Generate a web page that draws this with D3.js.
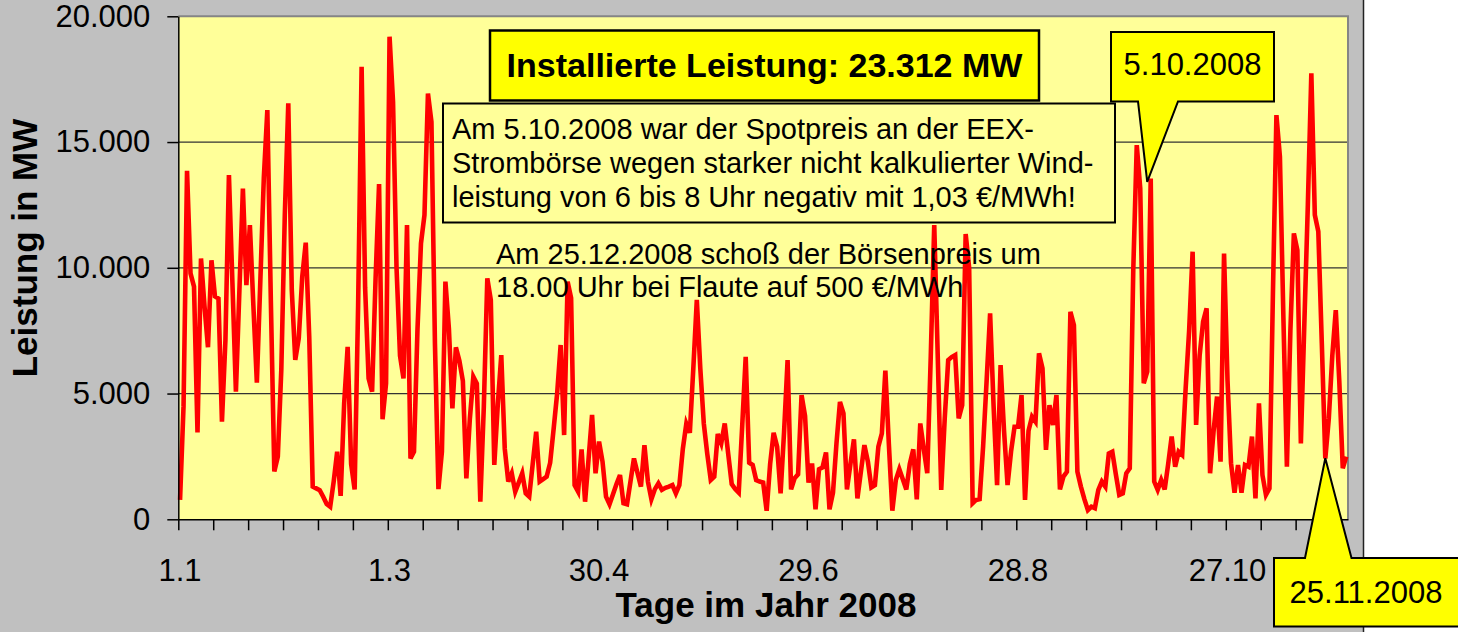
<!DOCTYPE html>
<html>
<head>
<meta charset="utf-8">
<script src="https://cdn.jsdelivr.net/npm/d3@7"></script>
<style>
body { margin: 0; background: #fff; }
svg { display: block; font-family: "Liberation Sans", Arial, sans-serif; }
</style>
</head>
<body>
<svg width="1458" height="632"></svg>
<script>
// daily wind power in MW, 1.1.2008 to 30.11.2008
var windMW = [
	770, 4500, 13860, 9780, 9250, 3450, 10370, 8480, 6840, 10300,
	8860, 8780, 3880, 7130, 13690, 9400, 5075, 9100, 13150, 9310,
	11700, 8500, 5430, 9500, 13600, 16270, 8720, 1900, 2490, 5940,
	12080, 16540, 9120, 6340, 7200, 9650, 11000, 7260, 1300, 1230,
	1160, 900, 610, 500, 1500, 2690, 930, 4600, 6860, 2200,
	1190, 8500, 17990, 9220, 5600, 5075, 9570, 13330, 3975, 5400,
	19190, 16600, 10000, 6500, 5600, 11700, 2420, 2690, 7540, 10970,
	12100, 16930, 15800, 7000, 1200, 2690, 9450, 7580, 4410, 6840,
	6300, 5500, 1630, 4000, 5670, 5400, 700, 4480, 9580, 8720,
	2160, 4560, 6530, 2800, 1500, 1830, 1100, 1460, 1830, 1030,
	900, 2200, 3480, 1500, 1600, 1700, 2250, 3600, 5000, 6930,
	3350, 9450, 8800, 1360, 1100, 2780, 700, 2400, 4150, 1830,
	3090, 2290, 900, 600, 1000, 1400, 1760, 640, 600, 1500,
	2420, 1850, 1300, 2950, 1500, 800, 1200, 1430, 1170, 1250,
	1300, 1360, 1030, 1360, 2800, 3800, 3440, 6000, 8720, 6000,
	3810, 2600, 1560, 1690, 3390, 3020, 3810, 2600, 1400, 1200,
	1060, 3700, 6460, 2250, 2160, 1560, 1500, 1460, 340, 2200,
	3440, 2890, 1030, 3500, 6330, 1190, 1630, 1790, 4940, 4110,
	1460, 2220, 400, 1990, 2060, 2660, 400, 1060, 3020, 4670,
	4210, 1190, 2200, 3180, 830, 1900, 2950, 2290, 1270, 1360,
	2890, 3420, 5910, 3000, 340, 1560, 1990, 1590, 1190, 2200,
	2780, 790, 3810, 2800, 1830, 6470, 11700, 6500, 1170, 4000,
	6330, 6450, 6530, 4010, 4540, 11340, 10000, 640, 770, 800,
	2900, 5500, 8190, 4500, 1360, 6130, 3500, 1360, 2700, 3680,
	3680, 4940, 770, 3520, 4080, 3880, 6600, 6000, 2760, 4540,
	3750, 4940, 1190, 1700, 1890, 8250, 7720, 1890, 1300, 800,
	370, 500, 440, 1170, 1500, 1300, 2620, 2690, 1800, 970,
	1030, 1830, 2030, 9910, 14880, 13160, 5410, 5870, 13550, 1500,
	1170, 1560, 1190, 2200, 3290, 2090, 2690, 2560, 5200, 7500,
	10640, 3750, 6500, 7860, 8390, 1830, 3500, 4880, 2290, 10570,
	5500, 2230, 1060, 2160, 1060, 2160, 2090, 3290, 830, 4610,
	1760, 970, 1230, 9000, 16070, 14420, 8000, 2090, 7500, 11370,
	10700, 3020, 7800, 12500, 17730, 12100, 11440, 7000, 2420, 4000,
	6500, 8320, 5500, 2030, 2490
];

var labelDays = [0, 60, 120, 180, 240, 300];
var labelTexts = ["1.1", "1.3", "30.4", "29.6", "28.8", "27.10"];
var yTickValues = [0, 5000, 10000, 15000, 20000];
var gridValues = [5000, 10000, 15000];

var titleText = "Installierte Leistung: 23.312 MW";
var noteLines = [
	"Am 5.10.2008 war der Spotpreis an der EEX-",
	"Strombörse wegen starker nicht kalkulierter Wind-",
	"leistung von 6 bis 8 Uhr negativ mit 1,03 €/MWh!"
];
var note2Lines = [
	"Am 25.12.2008 schoß der Börsenpreis um",
	"18.00 Uhr bei Flaute auf 500 €/MWh"
];
// callouts: label, day index and value the pointer aims at
var callouts = [
	{ text: "5.10.2008", day: 277, value: 13420 },
	{ text: "25.11.2008", day: 328, value: 2425 }
];

var plot = { left: 178.3, right: 1348, top: 16.3, bottom: 519.3 };
var font = '"Liberation Sans", Arial, sans-serif';

var x = d3.scaleLinear().domain([0, windMW.length]).range([plot.left, plot.right]);
var y = d3.scaleLinear().domain([0, 20000]).range([plot.bottom, plot.top]);
var de = d3.formatLocale({ decimal: ",", thousands: ".", grouping: [3], currency: ["", " €"] });
var fmt = de.format(",d");

function drawBackground(svg) {
	svg.append("rect")
		.attr("x", 0).attr("y", 0)
		.attr("width", 1363).attr("height", 632)
		.attr("fill", "#c0c0c0");
	svg.append("line")
		.attr("x1", 1363.5).attr("x2", 1363.5)
		.attr("y1", 0).attr("y2", 632)
		.attr("stroke", "#222").attr("stroke-width", 1.5);

	svg.append("rect")
		.attr("x", plot.left).attr("y", plot.top)
		.attr("width", plot.right - plot.left)
		.attr("height", plot.bottom - plot.top)
		.attr("fill", "#ffff99");

	//gridlines
	svg.append("g").selectAll("line")
		.data(gridValues)
		.enter().append("line")
		.attr("x1", plot.left).attr("x2", plot.right)
		.attr("y1", function (d) { return y(d); })
		.attr("y2", function (d) { return y(d); })
		.attr("stroke", "#333").attr("stroke-width", 1.2);

	//top and right border of the plot area
	svg.append("path")
		.attr("d", "M" + plot.left + "," + plot.top + "H" + plot.right + "V" + plot.bottom)
		.attr("fill", "none")
		.attr("stroke", "#858585").attr("stroke-width", 2);
}

function drawSeries(svg) {
	var line = d3.line()
		.x(function (d, i) { return x(i + 0.5); })
		.y(function (d) { return y(d); });

	svg.append("path")
		.datum(windMW)
		.attr("d", line)
		.attr("fill", "none")
		.attr("stroke", "#ff0000")
		.attr("stroke-width", 4.6);
}

function drawAxes(svg) {
	var yAxis = d3.axisLeft(y)
		.tickValues(yTickValues)
		.tickSize(11)
		.tickSizeOuter(0)
		.tickPadding(17)
		.tickFormat(fmt);

	var gy = svg.append("g")
		.attr("transform", "translate(" + plot.left + ",0)")
		.call(yAxis)
		.attr("font-size", 31)
		.attr("font-family", font);
	gy.selectAll("line").attr("stroke", "#000").attr("stroke-width", 1.5);
	gy.select(".domain").attr("stroke", "#000").attr("stroke-width", 1.5);
	gy.selectAll("text").attr("fill", "#000");

	var xAxis = d3.axisBottom(x)
		.tickValues(d3.range(0, 331, 10))
		.tickSize(11)
		.tickSizeOuter(0)
		.tickFormat("");

	var gx = svg.append("g")
		.attr("transform", "translate(0," + plot.bottom + ")")
		.call(xAxis);
	gx.selectAll("line").attr("stroke", "#000").attr("stroke-width", 1.5);
	gx.select(".domain").attr("stroke", "#000").attr("stroke-width", 1.5);

	//date labels sit under the middle of their day
	svg.append("g").selectAll("text")
		.data(labelDays)
		.enter().append("text")
		.attr("x", function (d) { return x(d + 0.5); })
		.attr("y", 580.5)
		.attr("text-anchor", "middle")
		.attr("font-size", 31)
		.attr("font-family", font)
		.text(function (d, i) { return labelTexts[i]; });

	svg.append("text")
		.attr("x", 766).attr("y", 617)
		.attr("text-anchor", "middle")
		.attr("font-size", 35).attr("font-weight", "bold")
		.attr("font-family", font)
		.text("Tage im Jahr 2008");

	svg.append("text")
		.attr("transform", "translate(37,248) rotate(-90)")
		.attr("text-anchor", "middle")
		.attr("font-size", 35).attr("font-weight", "bold")
		.attr("font-family", font)
		.text("Leistung in MW");
}

function drawNotes(svg) {
	// big yellow title box
	svg.append("rect")
		.attr("x", 490).attr("y", 30.5)
		.attr("width", 549).attr("height", 70)
		.attr("fill", "#ffff00")
		.attr("stroke", "#000").attr("stroke-width", 2.5);
	svg.append("text")
		.attr("x", 764.5).attr("y", 77)
		.attr("text-anchor", "middle")
		.attr("font-size", 34).attr("font-weight", "bold")
		.attr("font-family", font)
		.text(titleText);

	// note about 5.10.2008
	svg.append("rect")
		.attr("x", 443).attr("y", 103.5)
		.attr("width", 672).attr("height", 119)
		.attr("fill", "#ffff99")
		.attr("stroke", "#000").attr("stroke-width", 2);
	svg.append("text")
		.attr("font-size", 29).attr("font-family", font)
		.selectAll("tspan")
		.data(noteLines)
		.enter().append("tspan")
		.attr("x", 452)
		.attr("y", function (d, i) { return 138.5 + i * 34; })
		.text(function (d) { return d; });

	// note about 25.12.2008, no box
	svg.append("text")
		.attr("font-size", 29).attr("font-family", font)
		.selectAll("tspan")
		.data(note2Lines)
		.enter().append("tspan")
		.attr("x", 496)
		.attr("y", function (d, i) { return 263.5 + i * 33; })
		.text(function (d) { return d; });

	// callout 5.10.2008, pointer going down
	var c1 = callouts[0];
	var t1x = x(c1.day + 0.5), t1y = y(c1.value);
	svg.append("path")
		.attr("d", "M1111,32H1274V101.5H1178L" + t1x + "," + t1y + "L1138,101.5H1111Z")
		.attr("fill", "#ffff00")
		.attr("stroke", "#000").attr("stroke-width", 2)
		.attr("stroke-linejoin", "miter");
	svg.append("text")
		.attr("x", 1192.5).attr("y", 75)
		.attr("text-anchor", "middle")
		.attr("font-size", 31).attr("font-family", font)
		.text(c1.text);

	// callout 25.11.2008, pointer going up
	var c2 = callouts[1];
	var t2x = x(c2.day + 0.5), t2y = y(c2.value);
	svg.append("path")
		.attr("d", "M1274,558H1305L" + t2x + "," + t2y + "L1351.5,558H1470V626.5H1274Z")
		.attr("fill", "#ffff00")
		.attr("stroke", "#000").attr("stroke-width", 2)
		.attr("stroke-linejoin", "miter");
	svg.append("text")
		.attr("x", 1366).attr("y", 603)
		.attr("text-anchor", "middle")
		.attr("font-size", 31).attr("font-family", font)
		.text(c2.text);
}

function draw() {
	var svg = d3.select("svg");
	drawBackground(svg);
	drawSeries(svg);
	drawAxes(svg);
	drawNotes(svg);
}

window.addEventListener("DOMContentLoaded", function () {
	draw();
}, false);
</script>
</body>
</html>
